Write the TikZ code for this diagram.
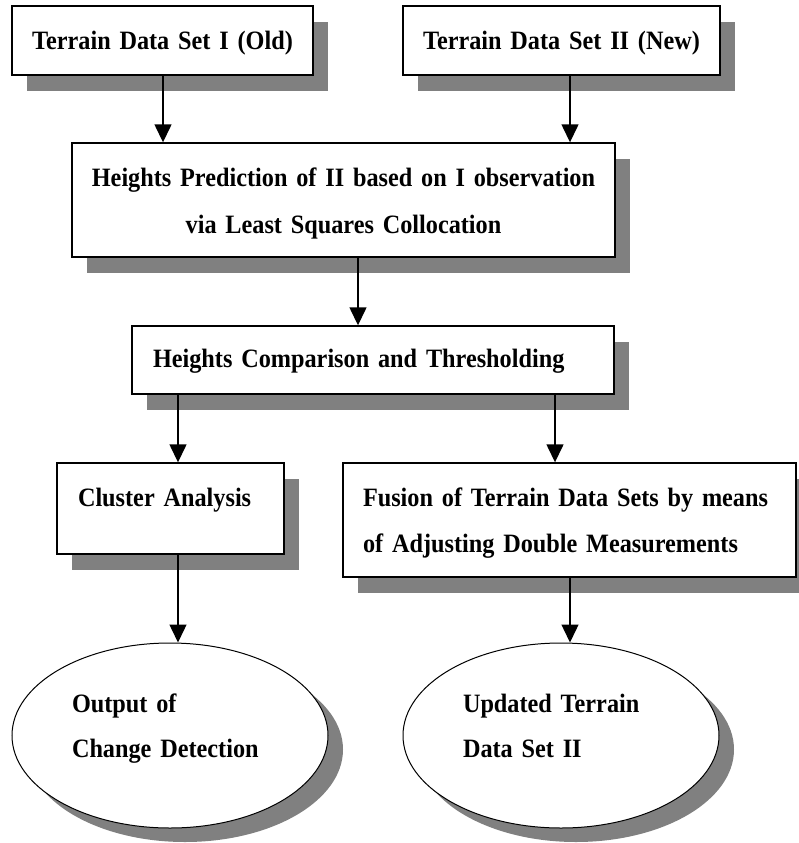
\documentclass[tikz,border=0pt]{standalone}
\usepackage{fontspec}
\setmainfont{Liberation Serif}[FakeStretch=0.915]
\usetikzlibrary{arrows.meta,shadows,shapes.geometric}
\definecolor{shadowgray}{RGB}{128,128,128}
\begin{document}
\begin{tikzpicture}[x=1pt,y=-1pt,
  every node/.style={font=\bfseries\fontsize{26.5}{46}\selectfont},
  box/.style={draw, line width=1.4pt, fill=white, inner xsep=0pt, inner ysep=0pt,
    drop shadow={shadow xshift=15pt, shadow yshift=-16pt, fill=shadowgray, opacity=1}},
  oval/.style={ellipse, draw, line width=1pt, fill=white, inner sep=0pt,
    minimum width=316pt, minimum height=185pt, text width=196pt, align=left,
    font=\bfseries\fontsize{26.5}{45}\selectfont,
    text height=18pt, text depth=65pt,
    drop shadow={shadow xshift=15pt, shadow yshift=-14pt, fill=shadowgray, opacity=1}},
  arr/.style={line width=1.4pt, -{Triangle[width=17pt,length=18pt]}}
]
\useasboundingbox (0,0) rectangle (799,843);

\node[box, minimum width=301pt, minimum height=69pt, text width=281pt, align=center,
  text height=19pt, text depth=0pt] (b1) at (162.5,40.5) {Terrain Data Set I (Old)};
\node[box, minimum width=317pt, minimum height=69pt, text width=297pt, align=center,
  text height=19pt, text depth=0pt] (b2) at (561.5,40.5) {Terrain Data Set II (New)};
\node[box, minimum width=543pt, minimum height=114pt, text width=523pt, align=center,
  font=\bfseries\fontsize{26.5}{47}\selectfont,
  text height=18pt, text depth=46pt] (b3) at (343.5,200)
  {Heights Prediction of II based on I observation\\via Least Squares Collocation};
\node[box, minimum width=482pt, minimum height=68pt, text width=440pt, align=left,
  text height=18pt, text depth=4pt] (b4) at (373,360) {Heights Comparison and Thresholding};
\node[box, minimum width=227pt, minimum height=91pt, text width=185pt, align=left,
  text height=18pt, text depth=23pt] (cl) at (170.5,508.5) {Cluster Analysis};
\node[box, minimum width=453pt, minimum height=114pt, text width=413pt, align=left,
  text height=18pt, text depth=46pt] (fu) at (569.5,520)
  {Fusion of Terrain Data Sets by means\\of Adjusting Double Measurements};
\node[oval] (e1) at (170,735.5) {Output of\\Change Detection};
\node[oval] (e2) at (561,735.5) {Updated Terrain\\Data Set II};

\coordinate (xa) at (163,0);
\coordinate (xb) at (570,0);
\coordinate (xc) at (358,0);
\coordinate (xd) at (178,0);
\coordinate (xe) at (555,0);
\coordinate (xf) at (570,0);

\draw[arr] (b1.south -| xa) -- (b3.north -| xa);
\draw[arr] (b2.south -| xb) -- (b3.north -| xb);
\draw[arr] (b3.south -| xc) -- (b4.north -| xc);
\draw[arr] (b4.south -| xd) -- (cl.north -| xd);
\draw[arr] (b4.south -| xe) -- (fu.north -| xe);
\draw[arr] (cl.south -| xd) -- (e1.north -| xd);
\draw[arr] (fu.south -| xf) -- (e2.north -| xf);
\end{tikzpicture}
\end{document}
